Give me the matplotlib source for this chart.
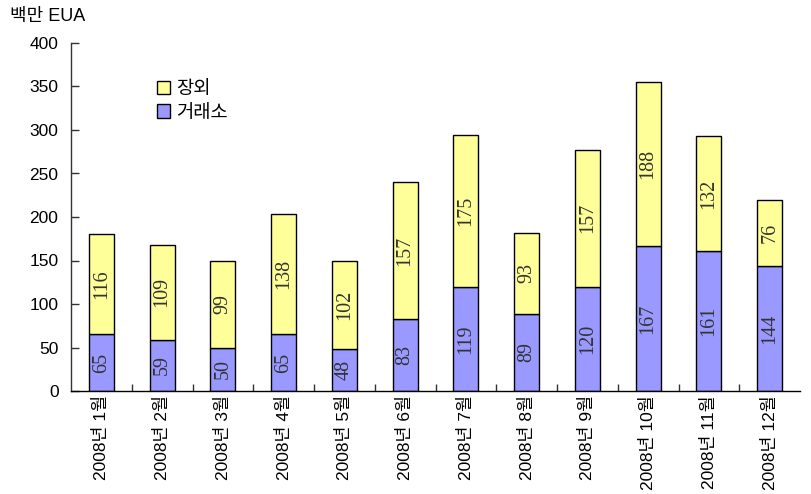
import numpy as np
import matplotlib
matplotlib.use("Agg")
import matplotlib.pyplot as plt
from matplotlib.patches import Patch

plt.rcParams['font.family'] = ['Liberation Sans', 'Noto Sans CJK KR']

months = ["2008년 1월", "2008년 2월", "2008년 3월", "2008년 4월", "2008년 5월", "2008년 6월",
          "2008년 7월", "2008년 8월", "2008년 9월", "2008년 10월", "2008년 11월", "2008년 12월"]
exchange = [65, 59, 50, 65, 48, 83, 119, 89, 120, 167, 161, 144]
otc = [116, 109, 99, 138, 102, 157, 175, 93, 157, 188, 132, 76]

c_exchange = "#9999FF"
c_otc = "#FFFF99"

fig = plt.figure(figsize=(8.11, 4.94), dpi=100)
ax = fig.add_axes([71 / 811, 103 / 494, 729 / 811, 348 / 494])

x = np.arange(len(months))
w = 0.41
ax.bar(x, exchange, width=w, color=c_exchange, edgecolor="black", linewidth=1, zorder=2)
ax.bar(x, otc, width=w, bottom=exchange, color=c_otc, edgecolor="black", linewidth=1, zorder=2)

# value labels, rotated, centered in each segment
for i in range(len(months)):
    ax.text(x[i], exchange[i] / 2, str(exchange[i]), rotation=90, ha="center", va="center",
            fontsize=14.5, family="Liberation Serif", color="#333333", zorder=3)
    ax.text(x[i], exchange[i] + otc[i] / 2, str(otc[i]), rotation=90, ha="center", va="center",
            fontsize=14.5, family="Liberation Serif", color="#333333", zorder=3)

ax.set_xlim(-0.5, len(months) - 0.5)
ax.set_ylim(0, 400)
ax.set_yticks(np.arange(0, 401, 50))
ax.tick_params(axis="y", direction="in", length=6, width=1, pad=9, labelsize=12.5, colors="#333333",
               labelcolor="black")

ax.set_xticks(x)
ax.set_xticklabels(months, rotation=90, fontsize=12.5)
ax.tick_params(axis="x", which="major", length=0, pad=3)
ax.set_xticks(x[:-1] + 0.5, minor=True)
ax.tick_params(axis="x", which="minor", direction="in", length=5, width=1, colors="#333333")

for s in ["top", "right"]:
    ax.spines[s].set_visible(False)
ax.spines["left"].set_color("#333333")
ax.spines["bottom"].set_color("black")
ax.spines["left"].set_linewidth(1)
ax.spines["bottom"].set_linewidth(1)

handles = [Patch(facecolor=c_otc, edgecolor="black", label="장외"),
           Patch(facecolor=c_exchange, edgecolor="black", label="거래소")]
ax.legend(handles=handles, loc="upper left", bbox_to_anchor=(0.095, 0.94), frameon=False,
          fontsize=13.5, handlelength=0.7, handleheight=0.7, handletextpad=0.3, labelspacing=0.35)

fig.text(10 / 811, 1 - 17 / 494, "백만 EUA", fontsize=13, va="center", ha="left")

fig.savefig("out.png", dpi=100)
